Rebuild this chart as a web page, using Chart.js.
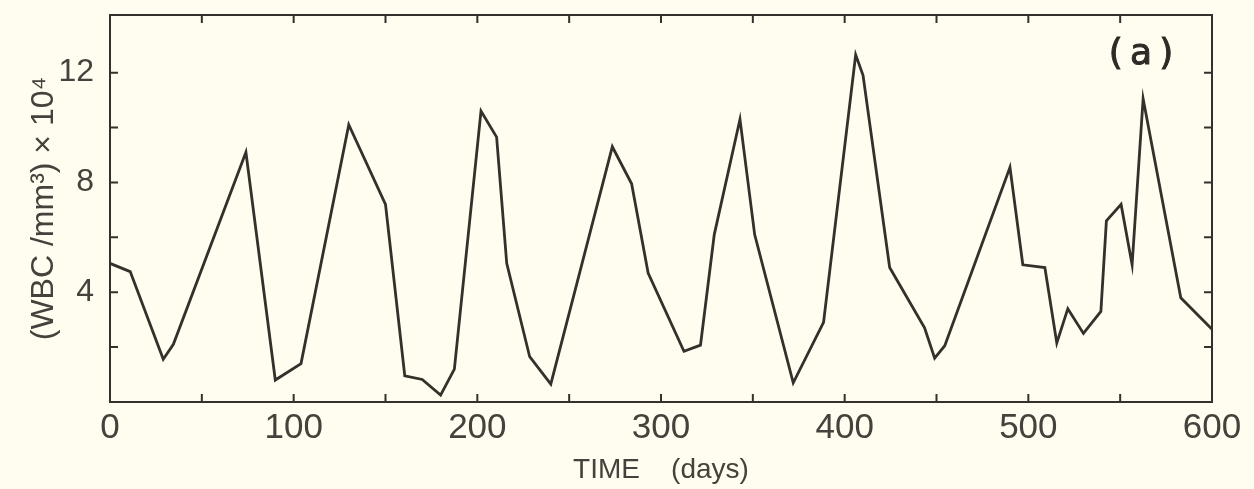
<!DOCTYPE html>
<html>
<head>
<meta charset="utf-8">
<script src="https://cdn.jsdelivr.net/npm/chart.js@4.4.1/dist/chart.umd.min.js"></script>
<style>
    html, body { margin: 0; padding: 0; background: #fffdf0; }
    #wrap { width: 1254px; height: 489px; }
</style>
</head>
<body>
<div id="wrap"><canvas id="wbcChart"></canvas></div>
<script>
// Số liệu
const days = [0, 11, 29, 34.5, 74, 90, 104, 130, 150, 160.5, 170, 180, 187.5, 202, 210.5, 216,
    228.5, 240, 273.5, 284, 293, 312.5, 321.5, 329, 343, 351, 372, 388.5, 406, 410, 424.5,
    443.5, 449, 454.5, 490, 497, 509, 515.5, 521.5, 530, 539.5, 542.5, 550.5, 556.5, 562.5, 583, 600];
const wbc = [5.05, 4.75, 1.56, 2.1, 9.1, 0.8, 1.4, 10.1, 7.2, 0.95, 0.82, 0.25, 1.2, 10.6, 9.65, 5.05,
    1.65, 0.65, 9.3, 7.95, 4.7, 1.85, 2.07, 6.1, 10.3, 6.1, 0.7, 2.9, 12.65, 11.9, 4.9,
    2.7, 1.6, 2.05, 8.55, 5.0, 4.9, 2.15, 3.4, 2.5, 3.3, 6.6, 7.2, 5.0, 11.05, 3.8, 2.65];

// Trục
const xLabels = [0, 100, 200, 300, 400, 500, 600];
const yLabels = [4, 8, 12];
const xTitle = 'TIME    (days)';
const yTitle = '(WBC /mm\u00B3) \u00D7 10\u2074';
const panelLabel = '(\u2009a\u2009)';

const INK = '#35302b';
const TEXT = '#45413c';

// --- Khung và vạch chia hướng vào trong ---
const frameTicks = {
    id: 'frameTicks',
    afterDraw(chart) {
        const { ctx, chartArea: a, scales: { x, y } } = chart;
        const len = 8;
        ctx.save();
        ctx.strokeStyle = INK;
        ctx.lineWidth = 2;
        ctx.strokeRect(a.left, a.top, a.right - a.left, a.bottom - a.top);
        ctx.beginPath();
        x.ticks.forEach(t => {
            const px = x.getPixelForValue(t.value);
            ctx.moveTo(px, a.bottom); ctx.lineTo(px, a.bottom - len);
            ctx.moveTo(px, a.top); ctx.lineTo(px, a.top + len);
        });
        y.ticks.forEach(t => {
            if (t.value > 14) return;
            const py = y.getPixelForValue(t.value);
            ctx.moveTo(a.left, py); ctx.lineTo(a.left + len, py);
            ctx.moveTo(a.right, py); ctx.lineTo(a.right - len, py);
        });
        ctx.stroke();

        // nhãn (a)
        ctx.fillStyle = '#2e2a26';
        ctx.strokeStyle = '#2e2a26';
        ctx.lineWidth = 1;
        ctx.font = '36px "DejaVu Sans"';
        ctx.textAlign = 'center';
        ctx.textBaseline = 'middle';
        ctx.fillText(panelLabel, 1141, 55);
        ctx.strokeText(panelLabel, 1141, 55);
        ctx.restore();
    }
};

const ctx = document.getElementById('wbcChart').getContext('2d');
const wbcChart = new Chart(ctx, {
    type: 'line',
    data: {
        datasets: [{
            data: days.map((d, i) => ({ x: d, y: wbc[i] })),
            borderColor: INK,
            borderWidth: 2.8,
            pointRadius: 0,
            tension: 0,
            fill: false
        }]
    },
    options: {
        responsive: true,
        maintainAspectRatio: false,
        animation: false,
        layout: { padding: { top: 15, right: 42, left: 0, bottom: 0 } },
        plugins: { legend: { display: false }, tooltip: { enabled: false } },
        scales: {
            x: {
                type: 'linear',
                min: 0, max: 600,
                grid: { display: false, drawTicks: false },
                border: { display: false },
                ticks: {
                    stepSize: 50,
                    padding: 5,
                    color: TEXT,
                    font: { family: 'Liberation Sans', size: 35 },
                    maxRotation: 0,
                    callback: v => xLabels.includes(v) ? String(v) : ''
                },
                title: {
                    display: true,
                    text: xTitle,
                    color: TEXT,
                    font: { family: 'Liberation Sans', size: 28 },
                    padding: { top: 0, bottom: 2 }
                },
                afterFit: scale => { scale.height = 87; scale.paddingLeft = 0; scale.paddingRight = 0; }
            },
            y: {
                min: 0, max: 14.1,
                grid: { display: false, drawTicks: false },
                border: { display: false },
                ticks: {
                    stepSize: 2,
                    padding: 16,
                    color: TEXT,
                    font: { family: 'Liberation Sans', size: 32 },
                    callback: v => yLabels.includes(v) ? String(v) : ''
                },
                title: {
                    display: true,
                    text: yTitle,
                    color: TEXT,
                    font: { family: 'Liberation Sans', size: 32 },
                    padding: { top: 25, bottom: 0 }
                },
                afterFit: scale => { scale.width = 110; scale.paddingTop = 0; scale.paddingBottom = 0; }
            }
        }
    },
    plugins: [frameTicks]
});
</script>
</body>
</html>
